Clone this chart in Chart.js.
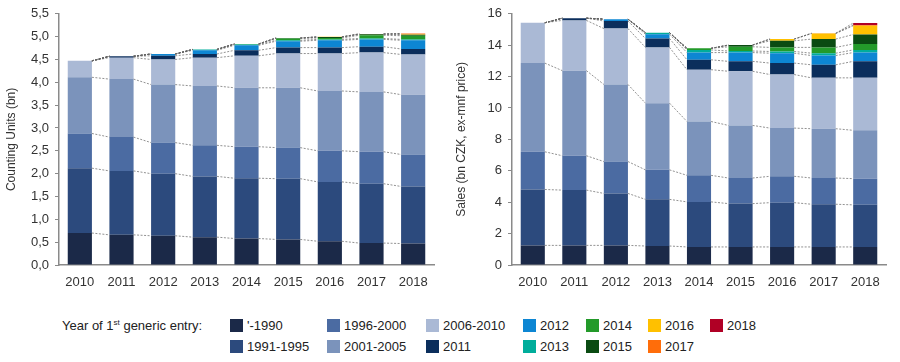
<!DOCTYPE html>
<html>
<head>
<meta charset="utf-8">
<script src="https://cdn.jsdelivr.net/npm/chart.js@4/dist/chart.umd.min.js"></script>
<style>
  body { margin:0; background:#fff; width:900px; height:362px; overflow:hidden; position:relative;
         font-family:"Liberation Sans", Arial, sans-serif; }
  #units { position:absolute; left:0; top:0; }
  #sales { position:absolute; left:445px; top:0; }
  .legend { position:absolute; font-family:"Liberation Sans Narrow","Liberation Sans",Arial,sans-serif;
            font-size:13px; color:#222; white-space:nowrap; }
  .legend .box { display:inline-block; width:13px; height:13px; vertical-align:-2px; margin-right:4px; }
  .legend sup { font-size:8px; }
</style>
</head>
<body>
<canvas id="units" width="445" height="290"></canvas>
<canvas id="sales" width="455" height="290"></canvas>
<div id="legendArea"></div>
<script>
var years = ['2010','2011','2012','2013','2014','2015','2016','2017','2018'];
var groups = ["'-1990",'1991-1995','1996-2000','2001-2005','2006-2010','2011','2012','2013','2014','2015','2016','2017','2018'];
var colors = ['#1b2948','#2c4a7d','#4b6ba2','#7b93bb','#aab9d5','#0b2e5c','#0d86d3','#00ad9b','#239a2a','#0a4b12','#ffc000','#ff6d0a','#b00025'];

// Counting units (bn), segment values per year of 1st generic entry
var unitsPre1990  = [0.70,0.66,0.64,0.61,0.58,0.56,0.52,0.48,0.47];
var units9195     = [1.42,1.40,1.36,1.33,1.32,1.33,1.30,1.30,1.25];
var units9600     = [0.76,0.74,0.68,0.68,0.69,0.68,0.68,0.70,0.70];
var units0105     = [1.23,1.27,1.27,1.30,1.29,1.31,1.31,1.31,1.31];
var units0610     = [0.36,0.47,0.55,0.62,0.70,0.75,0.82,0.86,0.88];
var units2011     = [0,0.03,0.08,0.08,0.12,0.13,0.13,0.13,0.12];
var units2012     = [0,0,0.04,0.08,0.11,0.14,0.16,0.16,0.19];
var units2013     = [0,0,0,0.02,0.02,0.02,0.02,0.02,0.02];
var units2014     = [0,0,0,0,0.01,0.04,0.03,0.07,0.08];
var units2015     = [0,0,0,0,0,0.01,0.02,0.02,0.02];
var units2016     = [0,0,0,0,0,0,0.005,0.01,0.01];
var units2017     = [0,0,0,0,0,0,0,0,0.02];
var units2018     = [0,0,0,0,0,0,0,0,0];

// Sales (bn CZK, ex-mnf price)
var salesPre1990  = [1.25,1.25,1.25,1.21,1.15,1.15,1.15,1.15,1.15];
var sales9195     = [3.56,3.52,3.31,2.97,2.87,2.76,2.82,2.72,2.68];
var sales9600     = [2.40,2.19,2.03,1.88,1.69,1.63,1.68,1.67,1.67];
var sales0105     = [5.65,5.42,4.91,4.25,3.43,3.35,3.07,3.14,3.08];
var sales0610     = [2.57,3.20,3.56,3.55,3.30,3.45,3.41,3.24,3.34];
var sales2011     = [0,0.14,0.48,0.57,0.63,0.63,0.73,0.83,1.05];
var sales2012     = [0,0,0.12,0.27,0.46,0.56,0.63,0.59,0.56];
var sales2013     = [0,0,0,0.10,0.17,0.10,0.11,0.15,0.17];
var sales2014     = [0,0,0,0,0.10,0.27,0.26,0.37,0.38];
var sales2015     = [0,0,0,0,0,0.11,0.42,0.53,0.60];
var sales2016     = [0,0,0,0,0,0,0.11,0.35,0.56];
var sales2017     = [0,0,0,0,0,0,0,0.02,0.05];
var sales2018     = [0,0,0,0,0,0,0,0,0.12];

var unitsSeries = [unitsPre1990,units9195,units9600,units0105,units0610,units2011,units2012,units2013,units2014,units2015,units2016,units2017,units2018];
var salesSeries = [salesPre1990,sales9195,sales9600,sales0105,sales0610,sales2011,sales2012,sales2013,sales2014,sales2015,sales2016,sales2017,sales2018];

function makeSets(series){
    return series.map(function(d,i){
        return { label: groups[i], data: d, backgroundColor: colors[i],
                 barPercentage: 0.58, categoryPercentage: 1, borderWidth: 0 };
    });
}

// dotted connectors between segment tops of neighbouring bars
var connectors = {
    id: 'connectors',
    afterDatasetsDraw: function(chart){
        var ctx = chart.ctx;
        ctx.save();
        ctx.strokeStyle = 'rgba(100,100,100,0.7)';
        ctx.lineWidth = 1;
        ctx.setLineDash([2,1.5]);
        chart.data.datasets.forEach(function(ds,i){
            var els = chart.getDatasetMeta(i).data;
            for (var j = 0; j < els.length - 1; j++){
                var a = els[j], b = els[j+1];
                ctx.beginPath();
                ctx.moveTo(a.x + a.width/2, a.y);
                ctx.lineTo(b.x - b.width/2, b.y);
                ctx.stroke();
            }
        });
        ctx.restore();
    }
};

var tickFont = { family: '"Liberation Sans", Arial, sans-serif', size: 13 };
var titleFont = { family: '"Liberation Sans", Arial, sans-serif', size: 12 };

function makeOptions(yMax, step, title, yWidth, fmt, padLeft, padRight){
    return {
        responsive: false,
        animation: false,
        layout: { padding: { top: 10, right: padRight, left: padLeft, bottom: 0 } },
        plugins: { legend: { display: false }, tooltip: { enabled: false } },
        scales: {
            x: {
                stacked: true,
                grid: { display: false },
                border: { color: '#8a8a8a', width: 1.5 },
                ticks: { color: '#333', font: tickFont, padding: 2, maxRotation: 0 },
                afterFit: function(s){ s.height = 25; }
            },
            y: {
                stacked: true,
                min: 0, max: yMax,
                border: { color: '#8a8a8a', width: 1.5 },
                grid: { drawOnChartArea: false, tickLength: 4, color: '#8a8a8a' },
                ticks: { stepSize: step, color: '#333', font: tickFont, padding: 6, callback: fmt },
                title: { display: true, text: title, color: '#333', font: titleFont, padding: 2 },
                afterFit: function(s){ s.width = yWidth; }
            }
        }
    };
}

new Chart(document.getElementById('units').getContext('2d'), {
    type: 'bar',
    data: { labels: years, datasets: makeSets(unitsSeries) },
    options: makeOptions(5.5, 0.5, 'Counting Units (bn)', 57,
        function(v){ return Number(v).toFixed(1).replace('.', ','); }, 2, 11),
    plugins: [connectors]
});

new Chart(document.getElementById('sales').getContext('2d'), {
    type: 'bar',
    data: { labels: years, datasets: makeSets(salesSeries) },
    options: makeOptions(16, 2, 'Sales (bn CZK, ex-mnf price)', 60,
        function(v){ return v; }, 7, 14),
    plugins: [connectors]
});

// legend
var legendArea = document.getElementById('legendArea');
var head = document.createElement('div');
head.className = 'legend';
head.style.left = '62px'; head.style.top = '318px';
head.innerHTML = 'Year of 1<sup>st</sup> generic entry:';
legendArea.appendChild(head);
var colX = [230, 327, 426, 523, 586, 648, 710];
var order = [[0,1],[2,3],[4,5],[6,7],[8,9],[10,11],[12,null]];
order.forEach(function(pair,c){
    pair.forEach(function(g,r){
        if (g === null) return;
        var el = document.createElement('div');
        el.className = 'legend';
        el.style.left = colX[c] + 'px';
        el.style.top = (318 + r*21) + 'px';
        el.innerHTML = '<span class="box" style="background:' + colors[g] + '"></span>' + groups[g];
        legendArea.appendChild(el);
    });
});
</script>
</body>
</html>
